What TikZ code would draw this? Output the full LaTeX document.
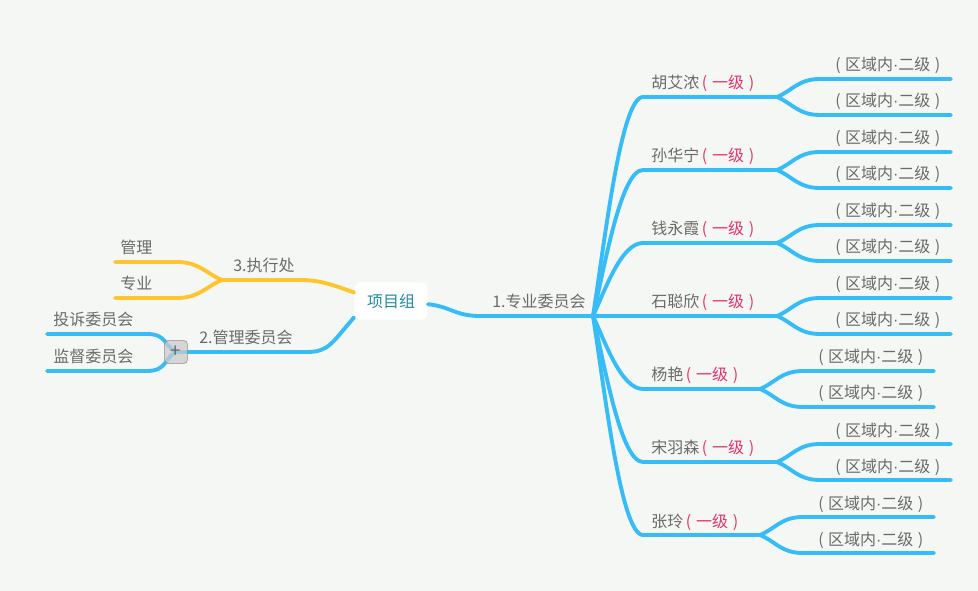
\documentclass[tikz,border=0pt]{standalone}
\usepackage{fontspec}
\setmainfont{Noto Sans CJK SC}
\newfontfamily\dotfont{Liberation Sans}
\definecolor{mapbg}{HTML}{F5F7F5}
\definecolor{mapblue}{HTML}{36BCF7}
\definecolor{mapyellow}{HTML}{FFC52F}
\definecolor{textgrey}{HTML}{6A6A6A}
\definecolor{levelred}{HTML}{E2346A}
\definecolor{roottext}{HTML}{1F8CA6}
\newcommand{\levelone}{\hspace{2pt}\textcolor{levelred}{(\hspace{0.3em}一级\hspace{0.3em})}}
\newcommand{\leveltwo}{(\hspace{0.28em}区域内{\dotfont ·}二级\hspace{0.28em})}
\tikzset{
  topic/.style={font=\fontsize{12pt}{14pt}\selectfont, text=textgrey, inner sep=0pt, anchor=base west},
  blueline/.style={draw=mapblue, line width=2.9pt, line cap=round},
  yellowline/.style={draw=mapyellow, line width=2.9pt, line cap=round},
  rootbox/.style={fill=white, rounded corners=5pt, minimum width=55pt, minimum height=28pt,
    font=\fontsize{12pt}{14pt}\selectfont, text=roottext},
  collapse/.style={draw=black!45, fill=black!20, fill opacity=0.75, text opacity=1, rounded corners=2.5pt,
    minimum size=17pt, inner sep=0pt, font=\fontsize{14pt}{14pt}\selectfont, text=black!60}
}
\begin{document}
\begin{tikzpicture}[x=0.75pt,y=-0.75pt]
  \fill[mapbg] (0,0) rectangle (978,591);
  \useasboundingbox (0,0) rectangle (978,591);
  \node[rootbox] (root) at (391,301) {项目组};
  \coordinate (hub) at (593,316);
  \coordinate (h0) at (480,316);
  \draw[blueline] (root.-5) .. controls +(22,2) and +(-25,0) .. (h0) -- (hub);
  \node[topic] (committee1) at (492,308) {1.专业委员会};
  \foreach \name/\y/\e [count=\i] in {胡艾浓/97/777, 孙华宁/170/777, 钱永霞/243/777, 石聪欣/316/777,
                                      杨艳/389/760, 宋羽森/462/777, 张玲/535/760} {
    \coordinate (b\i) at (643,\y);
    \coordinate (f\i) at (\e,\y);
    \draw[blueline] (hub) .. controls (605,{316+0.35*(\y-316)}) and (621,\y) .. (b\i) -- (f\i);
    \node[topic] (n\i) at (651,{\y-8}) {\name\levelone};
    \foreach \s [count=\j] in {-18,18} {
      \coordinate (c\i\j) at ({\e+43},{\y+\s});
      \coordinate (d\i\j) at ({\e+174},{\y+\s});
      \draw[blueline] (f\i) .. controls +(15,{\s/3}) and +(-22,0) .. (c\i\j) -- (d\i\j);
      \node[topic] (t\i\j) at ({\e+58},{\y+\s-8}) {\leveltwo};
    }
  }
  \coordinate (y0) at (300,280);
  \coordinate (yfork) at (222,280);
  \coordinate (g1) at (177,262);
  \coordinate (g1end) at (115,262);
  \coordinate (g2) at (177,298);
  \coordinate (g2end) at (115,298);
  \draw[yellowline] (root.167) .. controls +(-25,-9) and +(18,0) .. (y0) -- (yfork);
  \draw[yellowline] (yfork) .. controls +(-15,-6) and +(22,0) .. (g1) -- (g1end);
  \draw[yellowline] (yfork) .. controls +(-15,6) and +(22,0) .. (g2) -- (g2end);
  \node[topic] (office) at (233,272) {3.执行处};
  \node[topic] (manage) at (120,254) {管理};
  \node[topic] (major) at (120,290) {专业};
  \coordinate (m0) at (307,352);
  \coordinate (mfork) at (176,352);
  \coordinate (s1) at (147,334);
  \coordinate (s1end) at (47,334);
  \coordinate (s2) at (147,371);
  \coordinate (s2end) at (47,371);
  \draw[blueline] (root.204) .. controls +(-22,25) and +(22,0) .. (m0) -- (mfork);
  \draw[blueline] (mfork) .. controls +(-12,-6) and +(20,0) .. (s1) -- (s1end);
  \draw[blueline] (mfork) .. controls +(-12,6) and +(20,0) .. (s2) -- (s2end);
  \node[topic] (committee2) at (199,344) {2.管理委员会};
  \node[topic] (complain) at (53,326) {投诉委员会};
  \node[topic] (supervise) at (53,363) {监督委员会};
  \node[collapse] (plus) at (mfork) {+};
\end{tikzpicture}
\end{document}
